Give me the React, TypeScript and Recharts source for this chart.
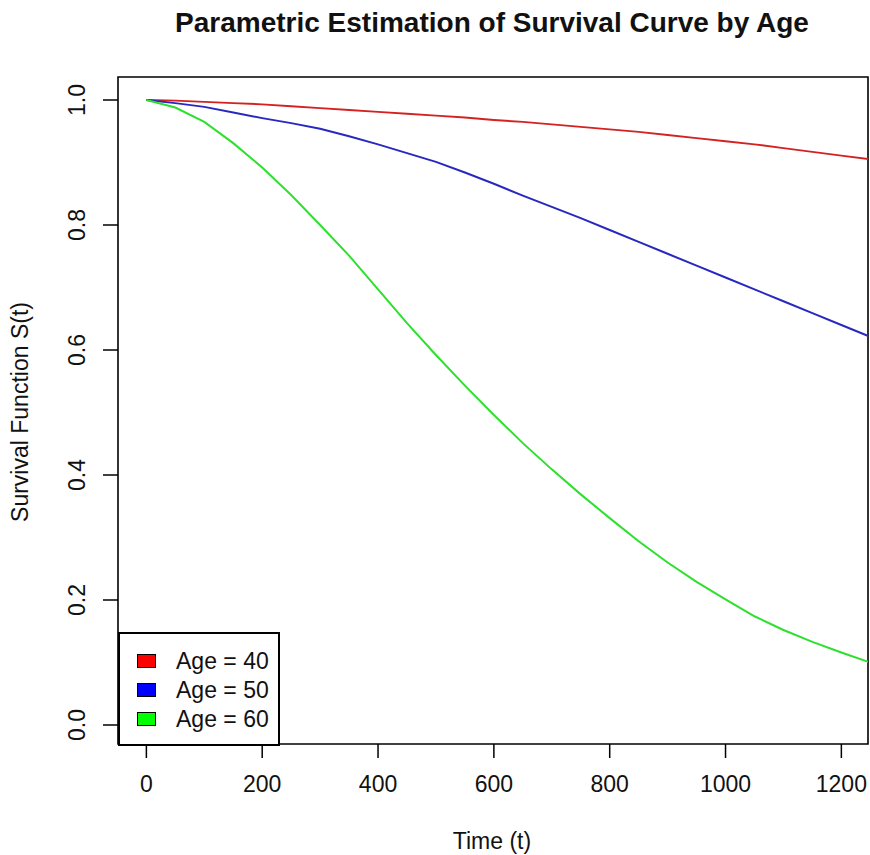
import React from "react";
import { LineChart, Line, XAxis, YAxis, ReferenceArea, Legend } from "recharts";

// ---- data ----
const timePoints = [0, 50, 100, 150, 200, 250, 300, 350, 400, 450, 500, 550, 600, 650, 700, 750, 800, 850, 900, 950, 1000, 1050, 1100, 1150, 1200, 1250];
const age40 = [1.0, 0.999, 0.997, 0.995, 0.993, 0.99, 0.987, 0.984, 0.981, 0.978, 0.975, 0.972, 0.968, 0.965, 0.961, 0.957, 0.953, 0.949, 0.944, 0.939, 0.934, 0.929, 0.923, 0.917, 0.911, 0.905];
const age50 = [1.0, 0.995, 0.989, 0.98, 0.971, 0.963, 0.954, 0.942, 0.929, 0.915, 0.901, 0.884, 0.866, 0.847, 0.829, 0.811, 0.792, 0.773, 0.754, 0.735, 0.716, 0.697, 0.678, 0.659, 0.64, 0.621];
const age60 = [1.0, 0.988, 0.965, 0.931, 0.892, 0.848, 0.8, 0.751, 0.697, 0.643, 0.592, 0.543, 0.496, 0.451, 0.409, 0.369, 0.331, 0.294, 0.26, 0.229, 0.201, 0.174, 0.152, 0.133, 0.116, 0.1];

const seriesNames = ["Age = 40", "Age = 50", "Age = 60"];
const seriesKeys = ["age40", "age50", "age60"];
const lineColors = ["#d42222", "#2828c0", "#2ee02e"];
const legendColors = ["#ff0000", "#0000ff", "#00ff00"];

const xTicks = [0, 200, 400, 600, 800, 1000, 1200];
const yTicks = [0, 0.2, 0.4, 0.6, 0.8, 1.0];

const title = "Parametric Estimation of Survival Curve by Age";
const xLabel = "Time (t)";
const yLabel = "Survival Function S(t)";

const data = timePoints.map((t, i) => ({ t, age40: age40[i], age50: age50[i], age60: age60[i] }));

const X_DOMAIN: [number, number] = [-49, 1246];
const Y_DOMAIN: [number, number] = [-0.0304, 1.0368];

const FONT = "'Liberation Sans', Arial, Helvetica, sans-serif";
const TEXT = "#111";

const W = 870;
const H = 855;
const PLOT_LEFT = 118;
const PLOT_TOP = 77;
const PLOT_RIGHT = 868;
const PLOT_BOTTOM = 744;
const Y_AXIS_W = 100;
const X_AXIS_H = 100;

const XTick = (props: any) => {
  const { x, y, payload } = props;
  return (
    <text x={x} y={y + 34} textAnchor="middle" fontFamily={FONT} fontSize={23} fill={TEXT}>
      {String(payload.value)}
    </text>
  );
};

const YTick = (props: any) => {
  const { x, y, payload } = props;
  const cx = x - 26;
  return (
    <text
      x={cx}
      y={y}
      transform={`rotate(-90, ${cx}, ${y})`}
      textAnchor="middle"
      dominantBaseline="central"
      fontFamily={FONT}
      fontSize={23}
      fill={TEXT}
    >
      {Number(payload.value).toFixed(1)}
    </text>
  );
};

const LegendBox = () => (
  <div
    style={{
      position: "relative",
      width: 162,
      height: 114,
      boxSizing: "border-box",
      border: "2px solid #000",
      background: "#fff",
      fontFamily: FONT,
      fontSize: 23,
      color: TEXT,
    }}
  >
    {seriesNames.map((name, i) => {
      const cy = 27 + i * 29;
      return (
        <React.Fragment key={name}>
          <div
            style={{
              position: "absolute",
              left: 17,
              top: cy - 7,
              width: 19,
              height: 14,
              boxSizing: "border-box",
              border: "1px solid #000",
              background: legendColors[i],
            }}
          />
          <div
            style={{
              position: "absolute",
              left: 56,
              top: cy - 14,
              height: 28,
              lineHeight: "28px",
              whiteSpace: "nowrap",
            }}
          >
            {name}
          </div>
        </React.Fragment>
      );
    })}
  </div>
);

export default function App() {
  return (
    <div style={{ position: "relative", width: W, height: H, background: "#fff" }}>
      <style>{"html,body{margin:0;padding:0;background:#fff;}"}</style>
      <LineChart
        width={W}
        height={H}
        data={data}
        margin={{
          top: PLOT_TOP,
          right: W - PLOT_RIGHT,
          left: PLOT_LEFT - Y_AXIS_W,
          bottom: H - PLOT_BOTTOM - X_AXIS_H,
        }}
      >
        <text x={492} y={32} textAnchor="middle" fontFamily={FONT} fontSize={28} fontWeight="bold" fill={TEXT}>
          {title}
        </text>
        <text x={492} y={849} textAnchor="middle" fontFamily={FONT} fontSize={23} fill={TEXT}>
          {xLabel}
        </text>
        <text
          x={28}
          y={412}
          transform="rotate(-90, 28, 412)"
          textAnchor="middle"
          fontFamily={FONT}
          fontSize={23}
          fill={TEXT}
        >
          {yLabel}
        </text>
        <XAxis
          type="number"
          dataKey="t"
          domain={X_DOMAIN}
          allowDataOverflow
          ticks={xTicks}
          interval={0}
          height={X_AXIS_H}
          axisLine={false}
          tickSize={14}
          tickMargin={0}
          tickLine={{ stroke: "#000", strokeWidth: 1.5 }}
          tick={<XTick />}
        />
        <YAxis
          type="number"
          domain={Y_DOMAIN}
          allowDataOverflow
          ticks={yTicks}
          interval={0}
          width={Y_AXIS_W}
          axisLine={false}
          tickSize={15}
          tickMargin={0}
          tickLine={{ stroke: "#000", strokeWidth: 1.5 }}
          tick={<YTick />}
        />
        {seriesKeys.map((k, i) => (
          <Line
            key={k}
            type="linear"
            dataKey={k}
            name={seriesNames[i]}
            stroke={lineColors[i]}
            strokeWidth={2}
            dot={false}
            activeDot={false}
            isAnimationActive={false}
          />
        ))}
        <ReferenceArea
          x1={X_DOMAIN[0]}
          x2={X_DOMAIN[1]}
          y1={Y_DOMAIN[0]}
          y2={Y_DOMAIN[1]}
          fill="none"
          fillOpacity={0}
          stroke="#000"
          strokeWidth={1.6}
          ifOverflow="visible"
        />
        <Legend
          layout="vertical"
          align="center"
          verticalAlign="middle"
          wrapperStyle={{ left: PLOT_LEFT, top: PLOT_BOTTOM - 112, width: 162, height: 114 }}
          content={() => <LegendBox />}
        />
      </LineChart>
    </div>
  );
}
